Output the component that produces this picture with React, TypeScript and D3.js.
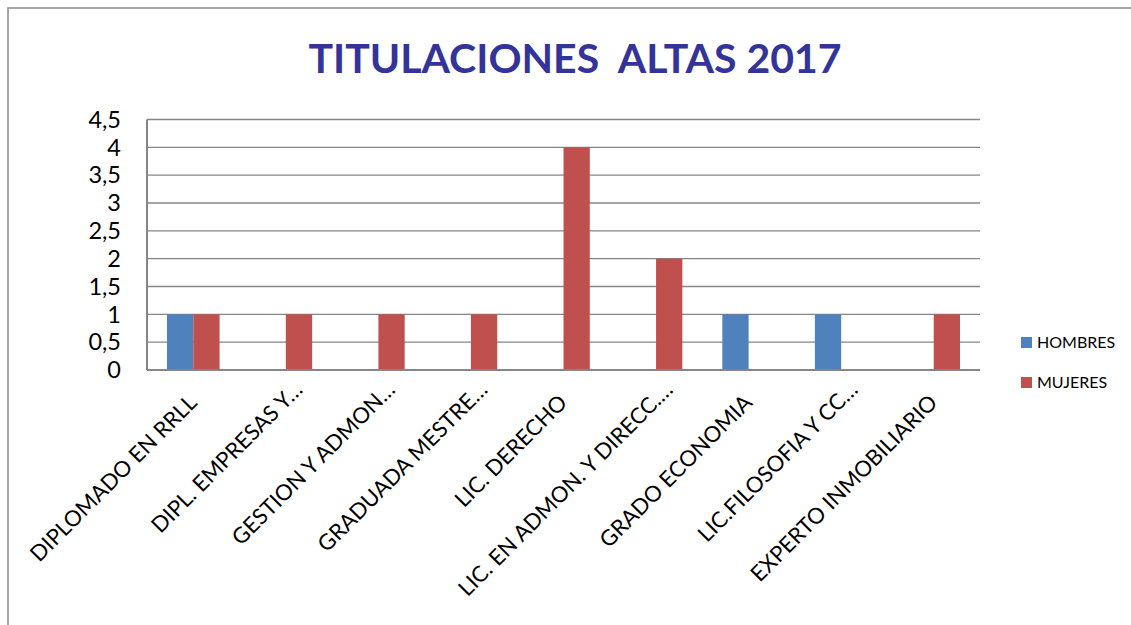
import React from 'react';
import * as d3 from 'd3';

const categories = [
  'DIPLOMADO EN RRLL',
  'DIPL. EMPRESAS Y…',
  'GESTION Y ADMON…',
  'GRADUADA MESTRE…',
  'LIC. DERECHO',
  'LIC. EN ADMON. Y DIRECC.…',
  'GRADO ECONOMIA',
  'LIC.FILOSOFIA Y CC…',
  'EXPERTO INMOBILIARIO',
];
const series = ['HOMBRES', 'MUJERES'];
const hombres = [1, 0, 0, 0, 0, 0, 1, 1, 0];
const mujeres = [1, 1, 1, 1, 4, 2, 0, 0, 1];
const yTicks = [0, 0.5, 1, 1.5, 2, 2.5, 3, 3.5, 4, 4.5];

const colors = ['#4F81BD', '#C0504D'];
const font = 'Lato, "Liberation Sans", sans-serif';

const W = 1131, H = 625;
const plot = { left: 147, right: 980, top: 119.5, bottom: 370 };

export default function App() {
  const x0 = d3.scaleBand<string>().domain(categories).range([plot.left, plot.right]);
  const x1 = d3.scaleBand<string>().domain(series).range([0, x0.bandwidth()]).paddingOuter(0.76);
  const y = d3.scaleLinear().domain([0, 4.5]).range([plot.bottom, plot.top]);
  const fmt = (v: number) => String(v).replace('.', ',');
  const values = [hombres, mujeres];

  return (
    <svg width={W} height={H} style={{ position: 'absolute', left: 0, top: 0 }}>
      <rect x={0} y={0} width={W} height={H} fill="#fff" />
      <rect x={8} y={8} width={W + 20} height={H + 20} fill="none" stroke="#8a8a8a" strokeWidth={1.5} />

      <text x={575} y={73} textAnchor="middle" fontFamily={font} fontWeight="bold" fontSize={41} fill="#333399" style={{ whiteSpace: 'pre' }}>
        {'TITULACIONES  ALTAS 2017'}
      </text>

      {/* grid + y labels */}
      {yTicks.map((t) => (
        <g key={t}>
          {t > 0 && (
            <line x1={plot.left} x2={plot.right} y1={y(t)} y2={y(t)} stroke="#868686" strokeWidth={1.3} />
          )}
          <text x={121} y={y(t)} dy="0.35em" textAnchor="end" fontFamily={font} fontSize={23.5} fill="#000">
            {fmt(t)}
          </text>
        </g>
      ))}

      {/* bars */}
      {categories.map((c, i) => (
        <g key={c} transform={`translate(${x0(c)},0)`}>
          {series.map((s, j) =>
            values[j][i] > 0 ? (
              <rect
                key={s}
                x={x1(s)}
                y={y(values[j][i])}
                width={x1.bandwidth()}
                height={y(0) - y(values[j][i])}
                fill={colors[j]}
              />
            ) : null
          )}
        </g>
      ))}

      {/* axes */}
      <line x1={plot.left} x2={plot.left} y1={plot.top} y2={plot.bottom} stroke="#868686" strokeWidth={2} />
      <line x1={plot.left} x2={plot.right} y1={plot.bottom} y2={plot.bottom} stroke="#868686" strokeWidth={2} />

      {/* category labels */}
      {categories.map((c) => {
        const cx = (x0(c) as number) + x0.bandwidth() / 2;
        const a = c.endsWith('…') ? 18 : 5;
        return (
          <text
            key={c}
            transform={`translate(${cx + a},${plot.bottom + 39 - a}) rotate(-45)`}
            textAnchor="end"
            fontFamily={font}
            fontSize={22}
            fill="#000"
          >
            {c}
          </text>
        );
      })}

      {/* legend */}
      {series.map((s, j) => (
        <g key={s} transform={`translate(1021,${337 + j * 40})`}>
          <rect x={0} y={0} width={11} height={11} fill={colors[j]} />
          <text x={16} y={5.5} dy="0.35em" fontFamily={font} fontSize={16} fill="#000">
            {s}
          </text>
        </g>
      ))}
    </svg>
  );
}
